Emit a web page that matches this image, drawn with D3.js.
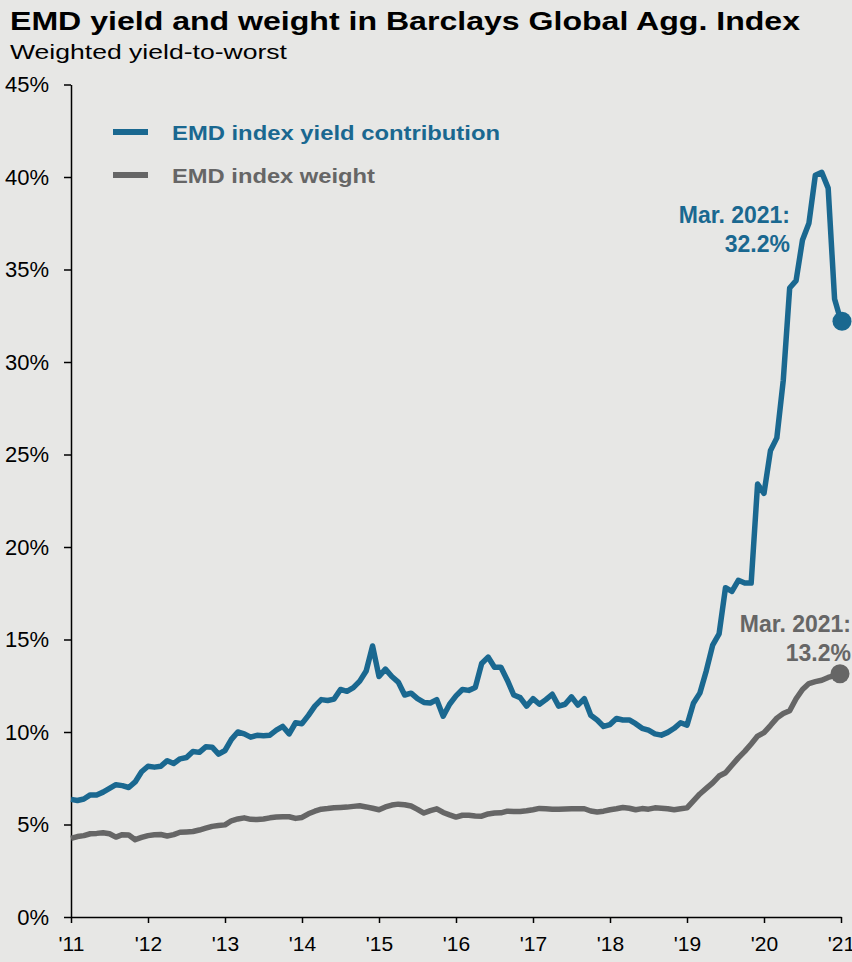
<!DOCTYPE html>
<html><head><meta charset="utf-8">
<script src="https://cdn.jsdelivr.net/npm/d3@7"></script>
<style>
body{margin:0;background:#e7e7e5;}
svg{display:block;font-family:"Liberation Sans",Arial,sans-serif;}
</style></head>
<body><svg id="c" width="852" height="962"></svg>
<script>
// Monthly observations, Mar 2011 .. Mar 2021 (121 points)
const yieldContribution = [
6.36,6.3,6.38,6.6,6.6,6.75,6.95,7.15,7.1,7.0,7.3,7.85,
8.15,8.1,8.15,8.45,8.3,8.55,8.62,8.95,8.9,9.2,9.18,8.8,
9.0,9.6,10.0,9.9,9.72,9.82,9.8,9.83,10.1,10.3,9.9,10.5,
10.45,10.9,11.4,11.75,11.7,11.78,12.3,12.2,12.4,12.75,13.3,14.65,
13.0,13.4,13.0,12.7,12.0,12.1,11.8,11.6,11.57,11.75,10.85,11.5,
11.95,12.3,12.25,12.4,13.7,14.05,13.5,13.5,12.8,12.0,11.86,11.4,
11.8,11.5,11.75,12.04,11.4,11.5,11.9,11.45,11.8,10.9,10.65,10.3,
10.4,10.73,10.65,10.65,10.45,10.2,10.1,9.9,9.83,9.98,10.2,10.5,
10.37,11.55,12.1,13.3,14.7,15.3,17.8,17.6,18.2,18.05,18.05,23.4,
22.9,25.2,25.9,29.0,34.0,34.4,36.6,37.5,40.1,40.25,39.4,33.4,
32.2];
const indexWeight = [
4.25,4.35,4.4,4.5,4.52,4.55,4.5,4.32,4.45,4.43,4.18,4.3,
4.4,4.45,4.46,4.38,4.45,4.58,4.6,4.62,4.7,4.8,4.9,4.95,
4.98,5.2,5.3,5.36,5.28,5.27,5.3,5.36,5.4,5.42,5.42,5.33,
5.38,5.58,5.72,5.83,5.86,5.9,5.92,5.94,5.98,6.01,5.95,5.88,
5.8,5.95,6.05,6.1,6.07,6.0,5.82,5.62,5.75,5.85,5.65,5.52,
5.4,5.5,5.5,5.46,5.45,5.57,5.62,5.63,5.72,5.7,5.7,5.74,
5.8,5.87,5.85,5.83,5.83,5.84,5.85,5.85,5.85,5.73,5.68,5.72,
5.8,5.85,5.92,5.88,5.8,5.86,5.83,5.9,5.88,5.85,5.8,5.85,
5.9,6.28,6.65,6.95,7.25,7.62,7.8,8.2,8.6,8.95,9.35,9.78,
9.97,10.35,10.75,11.0,11.15,11.8,12.3,12.62,12.72,12.8,12.95,13.05,
13.15];
const yearLabels = ["'11","'12","'13","'14","'15","'16","'17","'18","'19","'20","'21"];
const yTicks = [0,5,10,15,20,25,30,35,40,45];
const seriesNames = ["EMD index yield contribution","EMD index weight"];
const lastLabels = [["Mar. 2021:","32.2%"],["Mar. 2021:","13.2%"]];

const BLUE = "#1a6890", GREY = "#666666";
const svg = d3.select("#c");
svg.append("rect").attr("width",852).attr("height",962).attr("fill","#e7e7e5");

const x = d3.scaleLinear().domain([0,120]).range([71,841]);
const y = d3.scaleLinear().domain([0,45]).range([917,84.5]);

svg.append("text").attr("x",10).attr("y",29.5).attr("font-size",25).attr("font-weight","bold")
  .attr("textLength",790).attr("lengthAdjust","spacingAndGlyphs")
  .attr("fill","#000").text("EMD yield and weight in Barclays Global Agg. Index");
svg.append("text").attr("x",10).attr("y",59).attr("font-size",21)
  .attr("textLength",277).attr("lengthAdjust","spacingAndGlyphs")
  .attr("fill","#000").text("Weighted yield-to-worst");

// y axis
const ya = svg.append("g").attr("transform","translate(71,0)")
  .call(d3.axisLeft(y).tickValues(yTicks).tickFormat(d=>d+"%").tickSize(7).tickSizeOuter(0).tickPadding(15));
ya.select(".domain").attr("stroke","#000").attr("stroke-width",1.5);
ya.selectAll(".tick line").attr("stroke","#000").attr("stroke-width",1.5);
ya.selectAll("text").attr("font-size",22).attr("fill","#000").attr("font-family","'Liberation Sans',Arial,sans-serif");

// x axis
const xa = svg.append("g").attr("transform","translate(0,917)")
  .call(d3.axisBottom(x).tickValues(d3.range(0,121,12)).tickFormat((d,i)=>yearLabels[i]).tickSize(6).tickSizeOuter(0).tickPadding(13));
xa.select(".domain").attr("stroke","#000").attr("stroke-width",1.5);
xa.selectAll(".tick line").attr("stroke","#000").attr("stroke-width",1.5);
xa.selectAll("text").attr("font-size",21).attr("fill","#000")
  .attr("font-family","'Liberation Sans Narrow','Arial Narrow',sans-serif");

const line = d3.line().x((d,i)=>x(i)).y(d=>y(d)).curve(d3.curveLinear);
svg.append("path").datum(indexWeight).attr("d",line).attr("fill","none")
  .attr("stroke",GREY).attr("stroke-width",5.5).attr("stroke-linejoin","round");
svg.append("path").datum(yieldContribution).attr("d",line).attr("fill","none")
  .attr("stroke",BLUE).attr("stroke-width",5.5).attr("stroke-linejoin","round");

const last = yieldContribution.length-1;
svg.append("circle").attr("cx",x(last)+1).attr("cy",y(yieldContribution[last])).attr("r",9.5).attr("fill",BLUE);
svg.append("circle").attr("cx",x(last)-1).attr("cy",y(indexWeight[last])).attr("r",9.5).attr("fill",GREY);

// legend
const lg = [[BLUE,132,328],[GREY,175,203]];
lg.forEach((l,i)=>{
  svg.append("line").attr("x1",113).attr("x2",148).attr("y1",l[1]).attr("y2",l[1])
    .attr("stroke",l[0]).attr("stroke-width",6);
  svg.append("text").attr("x",172).attr("y",l[1]+7.5).attr("font-size",20).attr("font-weight","bold")
    .attr("textLength",l[2]).attr("lengthAdjust","spacingAndGlyphs")
    .attr("fill",l[0]).text(seriesNames[i]);
});

// annotations
function ann(lines,xr,y0,col){
  lines.forEach((t,k)=>svg.append("text").attr("x",xr).attr("y",y0+k*28.5).attr("text-anchor","end")
    .attr("font-size",23).attr("font-weight","bold").attr("fill",col).text(t));
}
ann(lastLabels[0],790,223,BLUE);
ann(lastLabels[1],851,632,GREY);
</script></body></html>
